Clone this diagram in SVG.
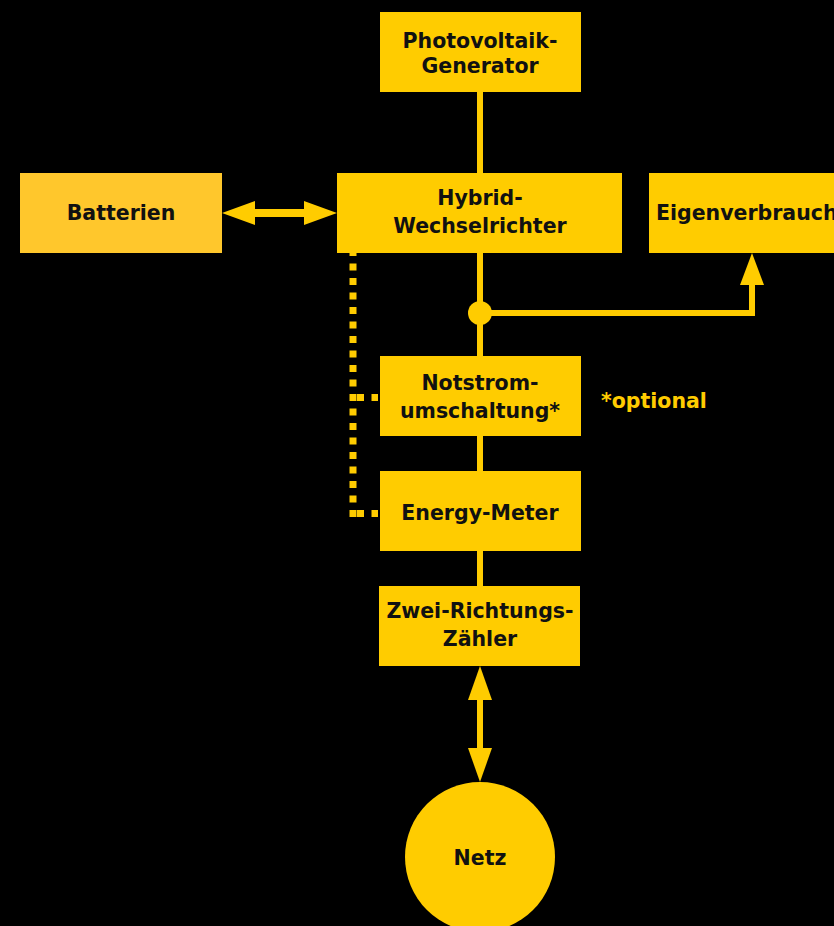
<svg xmlns="http://www.w3.org/2000/svg" width="834" height="926" viewBox="0 0 834 926">
<style>
.box{fill:#FFCC00}
.t{font-family:"DejaVu Sans","Liberation Sans",Arial,sans-serif;font-weight:bold;font-size:20.5px;fill:#111;text-anchor:middle}
.ln{stroke:#FFCC00;stroke-width:6;fill:none}
.ah{fill:#FFCC00}
.dot{stroke:#FFCC00;stroke-width:7;stroke-dasharray:7 7.5;fill:none}
</style>
<rect width="834" height="926" fill="#000"/>
<g id="connectors">
<line class="ln" x1="480" y1="92" x2="480" y2="173"/>
<line class="ln" x1="480" y1="253" x2="480" y2="356"/>
<line class="ln" x1="480" y1="436" x2="480" y2="471"/>
<line class="ln" x1="480" y1="551" x2="480" y2="586"/>
<circle cx="480" cy="313" r="12" fill="#FFCC00"/>
<polyline class="ln" points="480,313 752,313 752,282"/>
<polygon class="ah" points="752,253 740,285 764,285"/>
<line stroke="#FFCC00" stroke-width="8" x1="250" y1="213" x2="310" y2="213"/>
<polygon class="ah" points="222,213 255,201 255,225"/>
<polygon class="ah" points="337,213 304,201 304,225"/>
<line class="ln" x1="480" y1="695" x2="480" y2="752"/>
<polygon class="ah" points="480,666 468,700 492,700"/>
<polygon class="ah" points="480,782 468,748 492,748"/>
<line class="dot" x1="353" y1="249" x2="353" y2="517"/>
<line class="dot" x1="357" y1="397.5" x2="378" y2="397.5"/>
<line class="dot" x1="357" y1="513.5" x2="378" y2="513.5"/>
</g>
<g id="pv"><rect class="box" x="380" y="12" width="201" height="80"/><text class="t" x="480" y="48">Photovoltaik-</text><text class="t" x="480" y="73">Generator</text></g>
<g id="batterien"><rect x="20" y="173" width="202" height="80" fill="#FFC72C"/><text class="t" x="121" y="220">Batterien</text></g>
<g id="hybrid"><rect class="box" x="337" y="173" width="285" height="80"/><text class="t" x="480" y="205">Hybrid-</text><text class="t" x="480" y="233">Wechselrichter</text></g>
<g id="eigen"><rect class="box" x="649" y="173" width="200" height="80"/><text class="t" x="656" y="220" style="text-anchor:start">Eigenverbrauch</text></g>
<g id="notstrom"><rect class="box" x="380" y="356" width="201" height="80"/><text class="t" x="480" y="390">Notstrom-</text><text class="t" x="480" y="418">umschaltung*</text></g>
<g id="optional"><text class="t" x="601" y="408" style="text-anchor:start;fill:#FFCC00">*optional</text></g>
<g id="meter"><rect class="box" x="380" y="471" width="201" height="80"/><text class="t" x="480" y="520">Energy-Meter</text></g>
<g id="zaehler"><rect class="box" x="379" y="586" width="201" height="80"/><text class="t" x="480" y="618">Zwei-Richtungs-</text><text class="t" x="480" y="646">Zähler</text></g>
<g id="netz"><circle cx="480" cy="857" r="75" fill="#FFCC00"/><text class="t" x="480" y="865">Netz</text></g>
</svg>
